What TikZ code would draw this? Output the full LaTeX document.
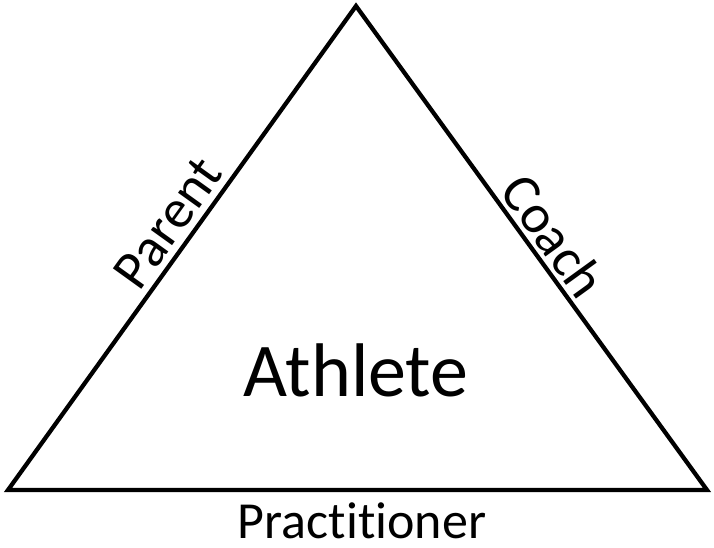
\documentclass[tikz,border=0pt]{standalone}
\usepackage{fontspec}
\setmainfont[Ligatures={CommonOff,ContextualOff}]{Carlito}
\tikzset{every picture/.style={line width=0.75pt}}
\begin{document}
\begin{tikzpicture}[x=0.75pt,y=0.75pt,yscale=-1,xscale=1]
\useasboundingbox (0,0) rectangle (714,547);

%Shape: Triangle
\coordinate (apex) at (356,6);
\coordinate (baseL) at (8,490);
\coordinate (baseR) at (707,490);
\draw [line width=3.2pt] (apex) -- (baseR) -- (baseL) -- cycle;

% Text Node
\node (parent) at (168,223) [rotate=54.3, inner sep=0.75pt, font=\fontsize{41}{48}\selectfont] {Parent};
% Text Node
\node (coach) at (554,236) [rotate=-54.1, inner sep=0.75pt, font=\fontsize{41}{48}\selectfont] {Coach};
% Text Node
\node (athlete) at (356,370) [inner sep=0.75pt, font=\fontsize{57}{66}\selectfont] {Athlete};
% Text Node
\node (practitioner) at (362,521) [inner sep=0.75pt, font=\fontsize{39}{46}\selectfont] {Practitioner};

\end{tikzpicture}
\end{document}
